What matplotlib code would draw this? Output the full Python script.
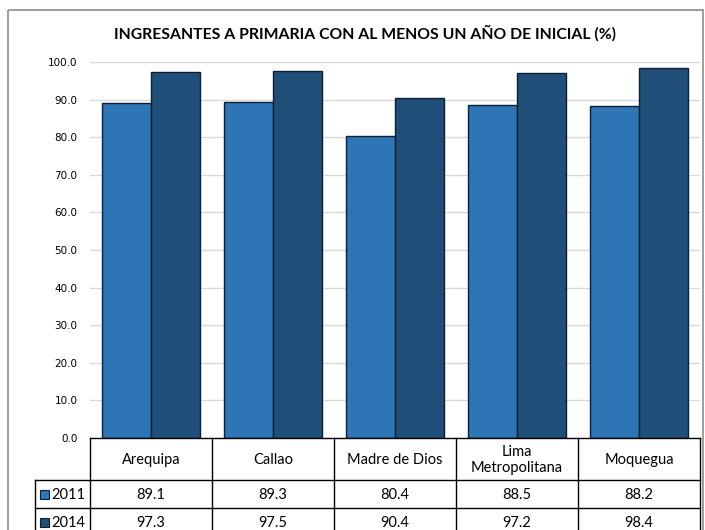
import matplotlib
matplotlib.use("Agg")
import matplotlib.pyplot as plt
from matplotlib.patches import Rectangle
from matplotlib.transforms import Affine2D
import numpy as np

categories = ["Arequipa", "Callao", "Madre de Dios", "Lima\nMetropolitana", "Moquegua"]
series_names = ["2011", "2014"]
values_2011 = [89.1, 89.3, 80.4, 88.5, 88.2]
values_2014 = [97.3, 97.5, 90.4, 97.2, 98.4]
yticks = [0, 10, 20, 30, 40, 50, 60, 70, 80, 90, 100]
title = "INGRESANTES A PRIMARIA CON AL MENOS UN AÑO DE INICIAL (%)"
colors = ["#2E75B6", "#1F4E79"]

W, H = 705, 530
fig = plt.figure(figsize=(W / 100, H / 100), dpi=100)
# pixel transform (origin top-left, y downwards)
px = Affine2D().scale(1 / W, -1 / H).translate(0, 1) + fig.transFigure

# outer border
fig.patches.append(Rectangle((8, 10), 695, 560, transform=px, fill=False,
                             edgecolor="#8c8c8c", lw=1.2))

ax_l, ax_r, y0, y100 = 90, 700, 438, 62
ax = fig.add_axes([ax_l / W, 1 - y0 / H, (ax_r - ax_l) / W, (y0 - y100) / H])

x = np.arange(len(categories))
bw = 0.4
ax.bar(x - bw / 2, values_2011, bw, color=colors[0], edgecolor="#0d1f33", lw=1.0, zorder=3)
ax.bar(x + bw / 2, values_2014, bw, color=colors[1], edgecolor="#0d1f33", lw=1.0, zorder=3)

ax.set_xlim(-0.5, len(categories) - 0.5)
ax.set_ylim(0, 100)
ax.set_yticks(yticks)
ax.set_yticklabels([f"{v:.1f}" for v in yticks], fontsize=7.5, family="DejaVu Sans")
ax.tick_params(axis="y", length=0, pad=9)
ax.set_xticks([])
ax.grid(axis="y", color="#d9d9d9", lw=1.0, zorder=0)
for s in ax.spines.values():
    s.set_visible(False)

fig.text(365 / W, 1 - 33 / H, title, ha="center", va="center",
         fontsize=11.3, fontweight="bold", family="Lato")

# data table drawn below the axis, columns aligned with categories
col_w = (ax_r - ax_l) / len(categories)
rows_y = [438, 480, 508, 536]
leg_l = 35
lw = 1.0
tfont = dict(fontsize=10.5, family="Lato", color="black")

def hline(xa, xb, y):
    fig.add_artist(plt.Line2D([xa, xb], [y, y], transform=px, color="black", lw=lw))

def vline(xx, ya, yb):
    fig.add_artist(plt.Line2D([xx, xx], [ya, yb], transform=px, color="black", lw=lw))

hline(ax_l, ax_r, rows_y[0])
for y in rows_y[1:]:
    hline(leg_l, ax_r, y)
vline(leg_l, rows_y[1], rows_y[3])
for i in range(len(categories) + 1):
    vline(ax_l + col_w * i, rows_y[0], rows_y[3])

for i, cat in enumerate(categories):
    xc = ax_l + col_w * (i + 0.5)
    fig.text(xc, (rows_y[0] + rows_y[1]) / 2 + 1, cat, transform=px, ha="center", va="center",
             linespacing=1.25, **tfont)
    for r, vals in enumerate([values_2011, values_2014]):
        fig.text(xc, (rows_y[r + 1] + rows_y[r + 2]) / 2 + 1, f"{vals[i]:.1f}", transform=px,
                 ha="center", va="center", **tfont)

for r, (name, col) in enumerate(zip(series_names, colors)):
    yc = (rows_y[r + 1] + rows_y[r + 2]) / 2
    fig.patches.append(Rectangle((40, yc - 4.5), 9, 9, transform=px,
                                 facecolor=col, edgecolor="#0d1f33", lw=0.8))
    fig.text(51, yc + 1, name, transform=px, ha="left", va="center", **tfont)

fig.savefig("out.png", dpi=100)
